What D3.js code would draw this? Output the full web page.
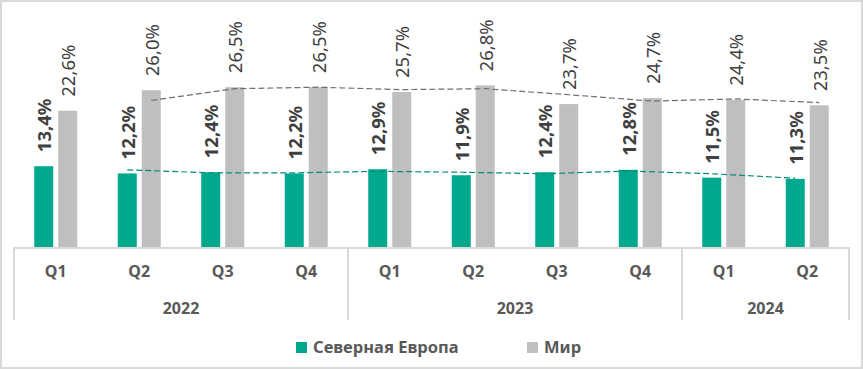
<!DOCTYPE html>
<html><head><meta charset="utf-8">
<script src="https://cdn.jsdelivr.net/npm/d3@7"></script>
<style>
html,body{margin:0;padding:0;background:#fff;}
svg{display:block;font-family:"Noto Sans",sans-serif;}
</style></head>
<body>
<svg id="chart" width="863" height="369"></svg>
<script>
const quarters = ["Q1","Q2","Q3","Q4","Q1","Q2","Q3","Q4","Q1","Q2"];
const yearLabels = ["2022","2023","2024"];
const yearCounts = [4,4,2];
const northEurope = [13.4,12.2,12.4,12.2,12.9,11.9,12.4,12.8,11.5,11.3];
const world = [22.6,26.0,26.5,26.5,25.7,26.8,23.7,24.7,24.4,23.5];
const seriesNames = ["Северная Европа","Мир"];
const colors = ["#00A88E","#BFBFBF"];
const trendColors = ["#008C74","#6F6F6F"];

const svg = d3.select("#chart");
const W = 863, H = 369;
svg.append("rect").attr("x",1).attr("y",1).attr("width",W-2).attr("height",H-2)
  .attr("fill","#fff").attr("stroke","#D9D9D9").attr("stroke-width",2);

const idx = d3.range(quarters.length);
const x0 = d3.scaleBand().domain(idx).range([14,849]);
const groupW = 43;
const x1 = d3.scaleBand().domain([0,1]).range([0,groupW]).paddingInner(0.2083);
const y = d3.scaleLinear().domain([0,40]).range([247,5.8]);
const off = (x0.bandwidth()-groupW)/2;
const barX = (i,s) => x0(i)+off+x1(s);
const barC = (i,s) => barX(i,s)+x1.bandwidth()/2;

const series = [northEurope, world];

// bars
series.forEach((vals,s)=>{
  svg.append("g").selectAll("rect").data(vals).join("rect")
    .attr("x",(d,i)=>barX(i,s)).attr("width",x1.bandwidth())
    .attr("y",d=>y(d)).attr("height",d=>y(0)-y(d))
    .attr("fill",colors[s]);
});

// moving-average trendlines (period 2)
series.forEach((vals,s)=>{
  const ma = vals.slice(1).map((v,k)=>({i:k+1, v:(v+vals[k])/2}));
  const line = d3.line().x(d=>barC(d.i,s)).y(d=>y(d.v));
  svg.append("path").datum(ma).attr("d",line).attr("fill","none")
    .attr("stroke",trendColors[s]).attr("stroke-width",1.2)
    .attr("stroke-dasharray","6,3");
});

// data labels
const fmt = v => d3.format(".1f")(v).replace(".",",")+"%";
series.forEach((vals,s)=>{
  svg.append("g").selectAll("text").data(vals).join("text")
    .attr("transform",(d,i)=>`translate(${barC(i,s)+1},${y(d)-14}) rotate(-90)`)
    .attr("dy","0.36em")
    .attr("font-size",18.5)
    .attr("font-weight", s===0 ? "bold" : "normal")
    .attr("fill","#404040")
    .text(d=>fmt(d));
});

// axis lines
const axis = svg.append("g").attr("stroke","#D9D9D9").attr("stroke-width",2);
axis.append("line").attr("x1",14).attr("x2",849).attr("y1",248).attr("y2",248);
let bounds = [0];
yearCounts.forEach(c=>bounds.push(bounds[bounds.length-1]+c));
bounds.forEach(b=>{
  const xb = b<quarters.length ? x0(b) : x0(quarters.length-1)+x0.bandwidth();
  axis.append("line").attr("x1",xb).attr("x2",xb).attr("y1",247).attr("y2",320);
});

// quarter labels
svg.append("g").selectAll("text").data(quarters).join("text")
  .attr("x",(d,i)=>x0(i)+x0.bandwidth()/2).attr("y",277)
  .attr("text-anchor","middle").attr("font-size",16).attr("font-weight","bold")
  .attr("fill","#595959").text(d=>d);

// year labels
svg.append("g").selectAll("text").data(yearLabels).join("text")
  .attr("x",(d,k)=>{
    const a = x0(bounds[k]);
    const e = bounds[k+1]<quarters.length ? x0(bounds[k+1]) : x0(quarters.length-1)+x0.bandwidth();
    return (a+e)/2;
  }).attr("y",314)
  .attr("text-anchor","middle").attr("font-size",16).attr("font-weight","bold")
  .attr("fill","#595959").text(d=>d);

// legend
const legX = [296, 527];
seriesNames.forEach((n,s)=>{
  svg.append("rect").attr("x",legX[s]).attr("y",342).attr("width",11).attr("height",11).attr("fill",colors[s]);
  svg.append("text").attr("x",legX[s]+17).attr("y",353).attr("font-size",16.5).attr("font-weight","bold")
    .attr("fill","#595959").text(n);
});
</script>
</body></html>
